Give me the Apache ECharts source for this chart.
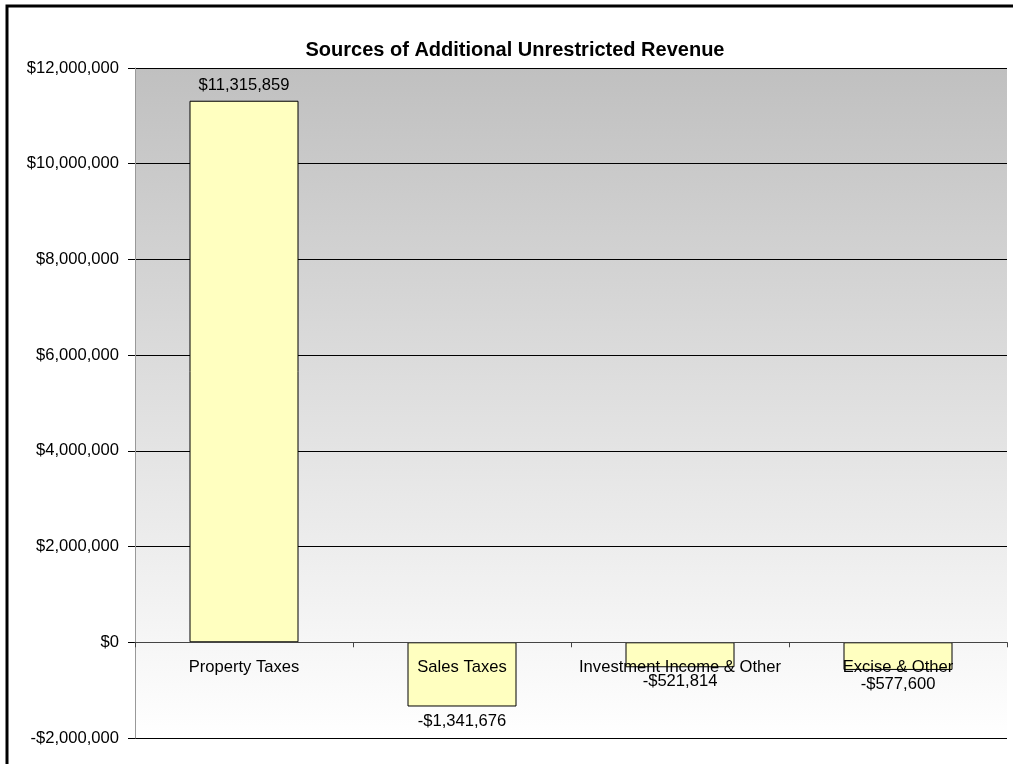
<!DOCTYPE html>
<html>
<head>
<meta charset="utf-8">
<script src="https://cdn.jsdelivr.net/npm/echarts@6/dist/echarts.min.js"></script>
<style>
  html, body { margin: 0; padding: 0; background: #fff; }
  #chart { width: 1013px; height: 764px; }
</style>
</head>
<body>
<div id="chart"></div>
<script>
// Revenue sources and their change (USD)
const categories = ['Property Taxes', 'Sales Taxes', 'Investment Income & Other', 'Excise & Other'];
const revenueChange = [11315859, -1341676, -521814, -577600];
const yTicks = { min: -2000000, max: 12000000, interval: 2000000 };

const FONT = 'Arial, "Liberation Sans", sans-serif';
const FS = 16.6;

function money(v) {
  const s = '$' + Math.abs(v).toLocaleString('en-US');
  return v < 0 ? '-' + s : s;
}

const chart = echarts.init(document.getElementById('chart'));
chart.setOption({
  backgroundColor: '#ffffff',
  animation: false,
  title: {
    text: 'Sources of Additional Unrestricted Revenue',
    left: 510,
    top: 35,
    textAlign: 'center',
    textStyle: { fontFamily: FONT, fontSize: 20, fontWeight: 'bold', color: '#000' }
  },
  graphic: [{
    type: 'rect',
    shape: { x: 7, y: 6, width: 1040, height: 800 },
    style: { fill: 'none', stroke: '#000', lineWidth: 3 },
    silent: true
  }],
  grid: {
    left: 135, right: 6, top: 68, bottom: 26,
    outerBoundsMode: 'none',
    containLabel: false,
    show: true,
    borderWidth: 0,
    backgroundColor: {
      type: 'linear', x: 0, y: 0, x2: 0, y2: 1,
      colorStops: [
        { offset: 0, color: '#c0c0c0' },
        { offset: 1, color: '#ffffff' }
      ]
    }
  },
  xAxis: {
    type: 'category',
    data: categories,
    z: 3,
    axisLine: { onZero: true, lineStyle: { color: '#444', width: 1 } },
    axisTick: { show: true, length: 5, inside: false, lineStyle: { color: '#444' } },
    axisLabel: { show: false },
    splitLine: { show: false }
  },
  yAxis: {
    type: 'value',
    min: yTicks.min, max: yTicks.max, interval: yTicks.interval,
    axisLine: { show: true, lineStyle: { color: '#999' } },
    axisTick: { show: true, length: 7, lineStyle: { color: '#000' } },
    axisLabel: { margin: 16, fontFamily: FONT, fontSize: FS, color: '#000', formatter: money },
    splitLine: { show: true, lineStyle: { color: '#000', width: 1 } }
  },
  series: [{
    type: 'bar',
    barWidth: '50%',
    itemStyle: { color: '#ffffc0', borderColor: '#000', borderWidth: 1 },
    data: revenueChange.map(v => ({
      value: v,
      label: { position: v < 0 ? 'bottom' : 'top', distance: v < 0 ? 6 : 7 }
    })),
    label: {
      show: true,
      fontFamily: FONT, fontSize: FS, color: '#000',
      formatter: p => money(p.value)
    }
  }, {
    // category names sit just under the zero line, over the bars
    type: 'scatter',
    symbolSize: 0,
    silent: true,
    z: 5,
    itemStyle: { opacity: 1, color: 'rgba(0,0,0,0)' },
    data: categories.map(c => ({ value: [c, 0], name: c })),
    label: {
      show: true,
      position: 'bottom',
      distance: 17,
      opacity: 1,
      fontFamily: FONT, fontSize: FS, color: '#000',
      formatter: p => p.name
    }
  }]
});
</script>
</body>
</html>
